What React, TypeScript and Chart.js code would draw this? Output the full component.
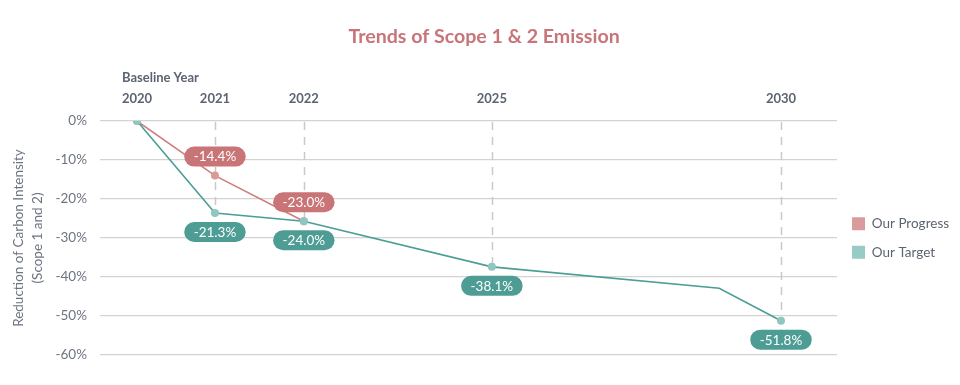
import React, { useEffect, useRef } from "react";
import { Chart, registerables } from "chart.js";

Chart.register(...registerables);

// ---- data ----
const chartTitle = "Trends of Scope 1 & 2 Emission";
const baselineLabel = "Baseline Year";
const yearLabels = ["2020", "2021", "2022", "2025", "2030"];
// position of each milestone year on the (non-uniform) timeline axis, as drawn in the source
const yearAxisPos = [0, 1.21, 2.59, 5.51, 10];

const progressPos = [0, 1.21, 2.59];
const progressValues = [0, -14.0, -25.7];
const progressLabels = ["", "-14.4%", "-23.0%"];

const targetPos = [0, 1.21, 2.59, 5.51, 9.04, 10];
const targetValues = [0, -23.6, -25.7, -37.4, -42.9, -51.2];
const targetLabels = ["", "-21.3%", "-24.0%", "-38.1%", "", "-51.8%"];
const targetMarkers = [true, true, true, true, false, true];

const seriesNames = ["Our Progress", "Our Target"];
const yAxisTitle = ["Reduction of Carbon Intensity", "(Scope 1 and 2)"];
const yMin = -60;
const yMax = 0;
const yStep = 10;

// ---- styles ----
const FONT = "Lato, 'Noto Sans', sans-serif";
const PINK_LINE = "#d07d7d";
const PINK_POINT = "#d89a9a";
const PINK_PILL = "#c97476";
const TEAL_LINE = "#4b9e96";
const TEAL_POINT = "#8ec6c0";
const TEAL_PILL = "#4e9d95";
const PINK_LEGEND = "#d99b9b";
const TEAL_LEGEND = "#96cbc6";
const TEXT_DARK = "#5c6471";
const TEXT_MID = "#6d7480";

const dropLinePlugin = {
  id: "dropLines",
  beforeDatasetsDraw(chart: any) {
    const { ctx, scales } = chart;
    const x = scales.x;
    const y = scales.y;
    ctx.save();
    ctx.strokeStyle = "#c9c9c9";
    ctx.lineWidth = 1.5;
    ctx.setLineDash([8, 7]);
    yearAxisPos.forEach((pos, i) => {
      if (i === 0) return;
      let lowest = 0;
      chart.data.datasets.forEach((ds: any) => {
        ds.data.forEach((p: any) => {
          if (Math.abs(p.x - pos) < 1e-6 && p.y < lowest) lowest = p.y;
        });
      });
      const px = Math.round(x.getPixelForValue(pos)) + 0.5;
      ctx.beginPath();
      ctx.moveTo(px, y.getPixelForValue(0) + 1);
      ctx.lineTo(px, y.getPixelForValue(lowest));
      ctx.stroke();
    });
    ctx.restore();
  },
};

const pillPlugin = {
  id: "pills",
  afterDatasetsDraw(chart: any) {
    const { ctx } = chart;
    ctx.save();
    ctx.font = `13.5px ${FONT}`;
    ctx.textAlign = "center";
    ctx.textBaseline = "middle";
    chart.data.datasets.forEach((ds: any, di: number) => {
      const meta = chart.getDatasetMeta(di);
      const labels: string[] = ds.pillLabels || [];
      meta.data.forEach((el: any, i: number) => {
        const text = labels[i];
        if (!text) return;
        const cx = el.x;
        const cy = el.y + ds.pillOffset;
        const w = ctx.measureText(text).width + 19;
        const h = 20;
        ctx.fillStyle = ds.pillColor;
        ctx.beginPath();
        ctx.roundRect(cx - w / 2, cy - h / 2, w, h, 10);
        ctx.fill();
        ctx.fillStyle = "#ffffff";
        ctx.fillText(text, cx, cy + 0.5);
      });
    });
    ctx.restore();
  },
};

const baselinePlugin = {
  id: "baseline",
  afterDraw(chart: any) {
    const { ctx, scales, chartArea } = chart;
    const px = scales.x.getPixelForValue(yearAxisPos[0]);
    ctx.save();
    ctx.font = `bold 13px ${FONT}`;
    const w = ctx.measureText(yearLabels[0]).width;
    ctx.fillStyle = TEXT_DARK;
    ctx.textAlign = "left";
    ctx.textBaseline = "middle";
    ctx.fillText(baselineLabel, px - w / 2, chartArea.top - 43.5);
    ctx.restore();
  },
};

export default function App() {
  const canvasRef = useRef<HTMLCanvasElement | null>(null);

  useEffect(() => {
    if (!canvasRef.current) return;
    const chart = new Chart(canvasRef.current, {
      type: "line",
      data: {
        datasets: [
          {
            label: seriesNames[0],
            data: progressPos.map((x, i) => ({ x, y: progressValues[i] })),
            borderColor: PINK_LINE,
            backgroundColor: PINK_POINT,
            pointBackgroundColor: PINK_POINT,
            pointBorderWidth: 0,
            pointRadius: 4,
            borderWidth: 1.6,
            tension: 0,
            order: 1,
            pillLabels: progressLabels,
            pillOffset: -19,
            pillColor: PINK_PILL,
          } as any,
          {
            label: seriesNames[1],
            data: targetPos.map((x, i) => ({ x, y: targetValues[i] })),
            borderColor: TEAL_LINE,
            backgroundColor: TEAL_POINT,
            pointBackgroundColor: TEAL_POINT,
            pointBorderWidth: 0,
            pointRadius: targetMarkers.map((m) => (m ? 4 : 0)),
            borderWidth: 1.6,
            tension: 0,
            order: 0,
            pillLabels: targetLabels,
            pillOffset: 19,
            pillColor: TEAL_PILL,
          } as any,
        ],
      },
      options: {
        animation: false,
        responsive: true,
        maintainAspectRatio: false,
        layout: { padding: { left: 9, right: 0.9, top: 0, bottom: 30 } },
        scales: {
          x: {
            type: "linear",
            position: "top",
            min: -0.575,
            max: 10.87,
            grid: { display: false, drawTicks: false },
            border: { display: false },
            afterBuildTicks: (scale: any) => {
              scale.ticks = yearAxisPos.map((v) => ({ value: v }));
            },
            afterFit: (scale: any) => {
              scale.height = 30;
            },
            ticks: {
              autoSkip: false,
              maxRotation: 0,
              padding: 14,
              color: TEXT_DARK,
              font: { family: FONT, size: 13, weight: "bold" },
              callback: (_v: any, i: number) => yearLabels[i],
            },
          },
          y: {
            min: yMin,
            max: yMax,
            grid: { color: "#d3d3d3", lineWidth: 1.3, drawTicks: false },
            border: { display: false },
            afterFit: (scale: any) => {
              scale.width = 91;
            },
            ticks: {
              stepSize: yStep,
              padding: 13,
              color: TEXT_MID,
              font: { family: FONT, size: 13.5 },
              callback: (v: any) => `${v}%`,
            },
            title: {
              display: true,
              text: yAxisTitle,
              color: TEXT_MID,
              font: { family: FONT, size: 13.5, lineHeight: "19px" },
              padding: { top: 0, bottom: 6 },
            },
          },
        },
        plugins: {
          title: {
            display: true,
            text: chartTitle,
            color: "#c8757a",
            font: { family: FONT, size: 19.6, weight: "bold" },
            padding: { top: 25, bottom: 42.5 },
          },
          tooltip: { enabled: false },
          legend: {
            position: "right",
            align: "center",
            fullSize: false,
            labels: {
              boxWidth: 13,
              boxHeight: 13,
              padding: 15,
              color: TEXT_DARK,
              font: { family: FONT, size: 13.5 },
              generateLabels: () => [
                { text: seriesNames[0], fillStyle: PINK_LEGEND, strokeStyle: PINK_LEGEND, lineWidth: 0, datasetIndex: 0, fontColor: TEXT_DARK } as any,
                { text: seriesNames[1], fillStyle: TEAL_LEGEND, strokeStyle: TEAL_LEGEND, lineWidth: 0, datasetIndex: 1, fontColor: TEXT_DARK } as any,
              ],
            },
          },
        },
      } as any,
      plugins: [dropLinePlugin, pillPlugin, baselinePlugin],
    });
    return () => chart.destroy();
  }, []);

  return (
    <div style={{ position: "fixed", left: 0, top: 0, width: 960, height: 385, background: "#ffffff" }}>
      <canvas ref={canvasRef} />
    </div>
  );
}
